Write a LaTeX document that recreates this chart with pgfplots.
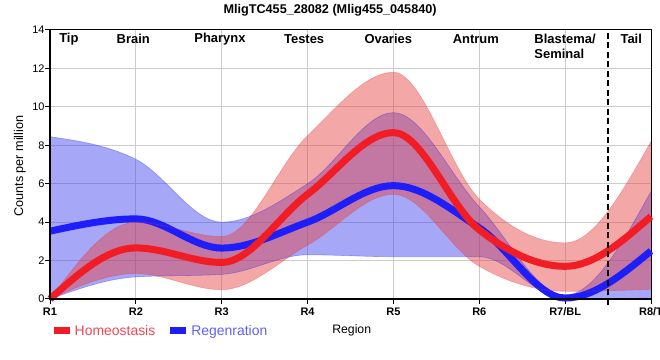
\documentclass[border=0pt]{standalone}
\usepackage{pgfplots}
\pgfplotsset{compat=1.18}
\usepgfplotslibrary{fillbetween}
\usepackage{fontspec}
\setmainfont{Liberation Sans}

\definecolor{hred}{RGB}{242,28,36}
\definecolor{hblue}{RGB}{30,30,250}
\definecolor{rband}{RGB}{230,60,60}
\definecolor{bband}{RGB}{60,60,240}
\definecolor{gridc}{RGB}{204,204,204}
\definecolor{redtxt}{RGB}{240,70,85}
\definecolor{bluetxt}{RGB}{95,95,245}

% monotone cubic plot handler (like d3 curveMonotoneX)
\makeatletter
\newcount\mc@n \newcount\mc@i \newcount\mc@j \newcount\mc@k \newcount\mc@last
\def\mc@X#1{\csname mc@x\number#1\endcsname}
\def\mc@Y#1{\csname mc@y\number#1\endcsname}
\def\pgfplothandlermonotone{%
  \def\pgf@plotstreamstart{%
    \global\mc@n=0
    \global\let\pgf@plotstreampoint=\mc@collect
    \global\let\pgf@plotstreamspecial=\pgfutil@gobble
    \global\let\pgf@plotstreamend=\mc@finish
  }%
}
\def\mc@collect#1{%
  \pgf@process{#1}%
  \expandafter\xdef\csname mc@x\the\mc@n\endcsname{\pgf@sys@tonumber\pgf@x}%
  \expandafter\xdef\csname mc@y\the\mc@n\endcsname{\pgf@sys@tonumber\pgf@y}%
  \global\advance\mc@n by 1
}
\def\mc@finish{%
  \mc@last=\mc@n \advance\mc@last by -1
  % secants
  \mc@i=0
  \loop\ifnum\mc@i<\mc@last
    \mc@j=\mc@i \advance\mc@j by 1
    \pgfmathsetmacro\mc@tmp{((\mc@Y\mc@j)-(\mc@Y\mc@i))/((\mc@X\mc@j)-(\mc@X\mc@i))}%
    \expandafter\xdef\csname mc@s\the\mc@i\endcsname{\mc@tmp}%
    \advance\mc@i by 1
  \repeat
  % interior tangents
  \mc@i=1
  \loop\ifnum\mc@i<\mc@last
    \mc@j=\mc@i \advance\mc@j by 1
    \mc@k=\mc@i \advance\mc@k by -1
    \edef\mc@sa{\csname mc@s\the\mc@k\endcsname}%
    \edef\mc@sb{\csname mc@s\the\mc@i\endcsname}%
    \pgfmathsetmacro\mc@ha{(\mc@X\mc@i)-(\mc@X\mc@k)}%
    \pgfmathsetmacro\mc@hb{(\mc@X\mc@j)-(\mc@X\mc@i)}%
    \pgfmathsetmacro\mc@p{((\mc@sa)*(\mc@hb)+(\mc@sb)*(\mc@ha))/((\mc@ha)+(\mc@hb))}%
    \pgfmathsetmacro\mc@tmp{((\mc@sa)*(\mc@sb)>0) ? (((\mc@sa)>0 ? 2 : -2)*min(abs(\mc@sa),abs(\mc@sb),0.5*abs(\mc@p))) : 0}%
    \expandafter\xdef\csname mc@m\the\mc@i\endcsname{\mc@tmp}%
    \advance\mc@i by 1
  \repeat
  % end tangents
  \pgfmathsetmacro\mc@tmp{(3*(\csname mc@s0\endcsname)-(\csname mc@m1\endcsname))/2}%
  \expandafter\xdef\csname mc@m0\endcsname{\mc@tmp}%
  \mc@k=\mc@last \advance\mc@k by -1
  \pgfmathsetmacro\mc@tmp{(3*(\csname mc@s\the\mc@k\endcsname)-(\csname mc@m\the\mc@k\endcsname))/2}%
  \expandafter\xdef\csname mc@m\the\mc@last\endcsname{\mc@tmp}%
  % path
  \pgf@plot@first@action{\pgfqpoint{\mc@X{0}pt}{\mc@Y{0}pt}}%
  \mc@i=0
  \loop\ifnum\mc@i<\mc@last
    \mc@j=\mc@i \advance\mc@j by 1
    \pgfmathsetmacro\mc@dx{((\mc@X\mc@j)-(\mc@X\mc@i))/3}%
    \pgfmathsetmacro\mc@ax{(\mc@X\mc@i)+\mc@dx}%
    \pgfmathsetmacro\mc@ay{(\mc@Y\mc@i)+\mc@dx*(\csname mc@m\the\mc@i\endcsname)}%
    \pgfmathsetmacro\mc@bx{(\mc@X\mc@j)-\mc@dx}%
    \pgfmathsetmacro\mc@by{(\mc@Y\mc@j)-\mc@dx*(\csname mc@m\the\mc@j\endcsname)}%
    \pgfpathcurveto{\pgfqpoint{\mc@ax pt}{\mc@ay pt}}{\pgfqpoint{\mc@bx pt}{\mc@by pt}}{\pgfqpoint{\mc@X\mc@j pt}{\mc@Y\mc@j pt}}%
    \advance\mc@i by 1
  \repeat
}
\tikzset{monotone/.code={\let\tikz@plot@handler=\pgfplothandlermonotone}}
\makeatother

\begin{document}
\begin{tikzpicture}
\begin{axis}[
  at={(50bp,61bp)}, anchor=south west,
  scale only axis, width=601bp, height=269bp,
  xmin=0, xmax=7, ymin=0, ymax=14,
  xtick={0,...,7}, xticklabels={R1,R2,R3,R4,R5,R6,R7/BL,R8/T},
  ytick={0,2,...,14},
  grid=major, grid style={gridc, line width=1bp},
  tick align=outside, major tick length=5bp,
  xtick pos=lower, ytick pos=left,
  tick style={black, line width=1bp},
  axis line style={line width=1bp},
  clip=false,
  /pgf/number format/assume math mode=true,
  tick label style={font=\fontsize{11}{13}\selectfont},
  x tick label style={font=\fontsize{11}{13}\selectfont\bfseries},
  y tick label style={xshift=3bp},
  ylabel={Counts per million},
  ylabel style={at={(axis description cs:-0.05,0.494)}, anchor=center, font=\fontsize{12.7}{15}\selectfont},
  xlabel={Region},
  xlabel style={at={(axis description cs:0.502,-0.118)}, anchor=center, font=\fontsize{12.3}{15}\selectfont},
  legend image code/.code={\draw (0bp,0bp) -- (16bp,0bp);},
  legend style={at={(axis description cs:0.0,-0.118)}, anchor=west, draw=none, fill=none,
    legend columns=2, font=\fontsize{14}{16}\selectfont, inner sep=0pt,
    nodes={inner sep=1.5bp},
    /tikz/every even column/.append style={column sep=10bp}},
]
\addlegendimage{hred, line width=7bp}
\addlegendentry{\textcolor{redtxt}{Homeostasis}}
\addlegendimage{hblue, line width=7bp}
\addlegendentry{\textcolor{bluetxt}{Regenration}}

% Regeneration band
\addplot[name path=bu, monotone, draw=hblue, draw opacity=0.35, line width=0.6bp, forget plot]
  coordinates {(0,8.45) (1,7.27) (2,4.0) (3,6.0) (4,9.7) (5,4.8) (6,0.2) (7,5.6)};
\addplot[name path=bl, monotone, draw=hblue, draw opacity=0.35, line width=0.6bp, forget plot]
  coordinates {(0,0) (1,1.15) (2,1.28) (3,2.3) (4,2.2) (5,2.2) (6,0.0) (7,0.05)};
\addplot[bband, fill opacity=0.45, draw=none, forget plot] fill between[of=bu and bl];
% Regeneration mean
\addplot[hblue, line width=7bp, monotone, forget plot]
  coordinates {(0,3.53) (1,4.17) (2,2.65) (3,4.0) (4,5.9) (5,3.7) (6,0.05) (7,2.5)};

% Homeostasis band
\addplot[name path=ru, monotone, draw=rband, draw opacity=0.35, line width=0.6bp, forget plot]
  coordinates {(0,0) (1,4.0) (2,3.25) (3,8.5) (4,11.8) (5,5.2) (6,2.92) (7,8.2)};
\addplot[name path=rl, monotone, draw=rband, draw opacity=0.35, line width=0.6bp, forget plot]
  coordinates {(0,0) (1,1.32) (2,0.48) (3,2.8) (4,5.45) (5,1.7) (6,0.4) (7,0.5)};
\addplot[rband, fill opacity=0.45, draw=none, forget plot] fill between[of=ru and rl];
% Homeostasis mean
\addplot[hred, line width=7bp, monotone, forget plot]
  coordinates {(0,0) (1,2.66) (2,1.9) (3,5.45) (4,8.66) (5,3.6) (6,1.7) (7,4.3)};

% divider
\addplot[black, line width=2.2bp, dash pattern=on 6bp off 3.5bp, forget plot]
  coordinates {(6.5,-0.3) (6.5,14)};

\draw[line width=2.5bp, black] (rel axis cs:0,1) -- (rel axis cs:0,0) -- (rel axis cs:1,0);

\node[font=\fontsize{12.7}{15}\selectfont\bfseries] at (axis description cs:0.466,1.074) {MligTC455\_28082 (Mlig455\_045840)};

\begin{scope}[every node/.style={font=\fontsize{13}{15}\selectfont\bfseries}]
\node at (axis cs:0.22,13.53) {Tip};
\node at (axis cs:0.97,13.53) {Brain};
\node at (axis cs:1.98,13.53) {Pharynx};
\node at (axis cs:2.96,13.53) {Testes};
\node at (axis cs:3.94,13.53) {Ovaries};
\node at (axis cs:4.96,13.53) {Antrum};
\node[anchor=west, align=left, inner sep=0pt] at (axis cs:5.64,13.14) {Blastema/\\Seminal};
\node at (axis cs:6.77,13.53) {Tail};
\end{scope}
\end{axis}
\pgfresetboundingbox
\path[use as bounding box] (0,0) rectangle (660bp,360bp);
\end{tikzpicture}
\end{document}
